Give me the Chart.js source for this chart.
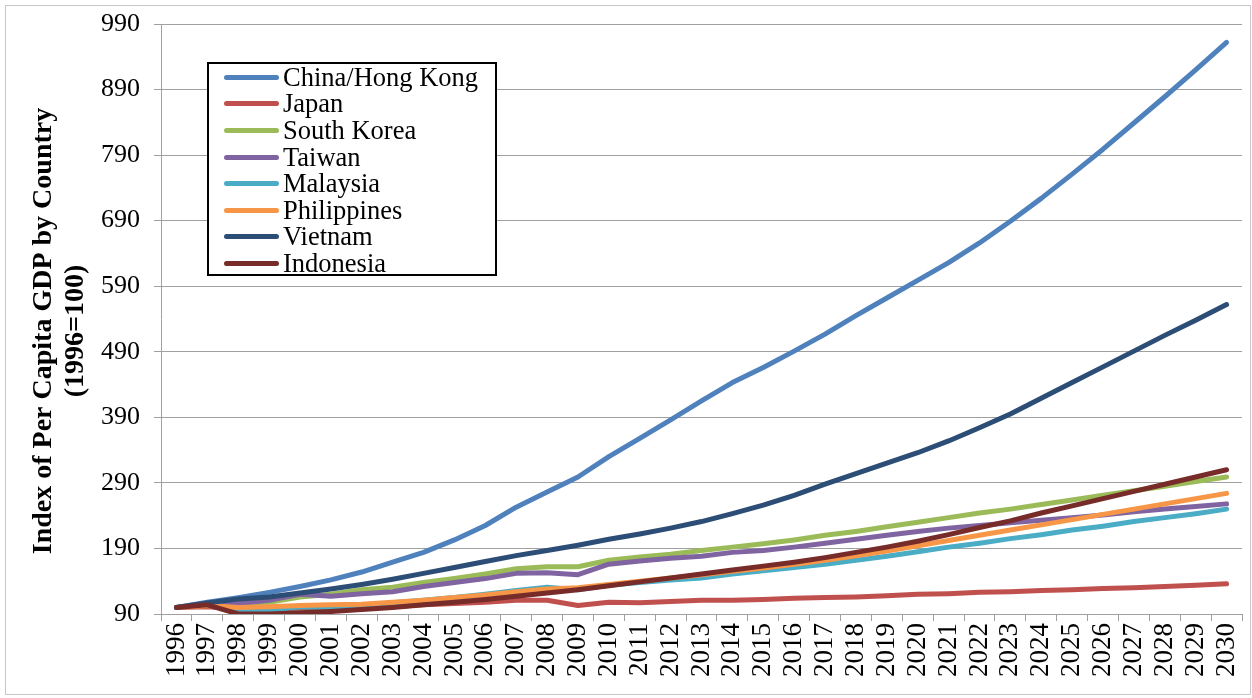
<!DOCTYPE html>
<html>
<head>
<meta charset="utf-8">
<script src="https://cdn.jsdelivr.net/npm/chart.js@4.4.1/dist/chart.umd.min.js"></script>
<style>
  html, body { margin: 0; padding: 0; background: #fff; }
  #wrap { position: relative; width: 1252px; height: 698px; }
  #frame { position: absolute; left: 5px; top: 5px; width: 1244px; height: 688px; border: 1px solid #C8C8C8; pointer-events: none; }
  #legend {
    position: absolute; left: 207px; top: 62px; width: 290px; height: 214px;
    box-sizing: border-box; border: 2px solid #000; background: #fff;
    font-family: "Liberation Serif", serif; font-size: 26.5px; color: #000;
  }
  #legend .row { display: flex; align-items: center; height: 26.6px; }
  #legend .swatch { width: 55px; height: 5px; border-radius: 3px; margin-left: 15px; margin-right: 4px; }
</style>
</head>
<body>
<div id="wrap">
  <canvas id="chart1"></canvas>
  <div id="legend"></div>
  <div id="frame"></div>
</div>
<script>
// datos (indice 1996=100)
const years = ['1996', '1997', '1998', '1999', '2000', '2001', '2002', '2003', '2004', '2005',
  '2006', '2007', '2008', '2009', '2010', '2011', '2012', '2013', '2014', '2015',
  '2016', '2017', '2018', '2019', '2020', '2021', '2022', '2023', '2024', '2025',
  '2026', '2027', '2028', '2029', '2030'];

const china = [100, 108, 115, 123, 132, 142, 154, 169, 184, 203, 225, 253, 276, 299, 330, 358, 386, 415, 443, 466,
  491, 517, 545, 572, 599, 626, 656, 689, 724, 761, 799, 839, 879, 920, 962];
const japan = [100, 101, 98, 97, 99, 99, 99, 101, 104, 106, 108, 111, 111, 103, 108, 107, 109, 111, 111, 112,
  114, 115, 116, 118, 120, 121, 123, 124, 126, 127, 129, 130, 132, 134, 136];
const southKorea = [100, 104, 98, 108, 116, 120, 127, 131, 138, 144, 151, 159, 162, 162, 172, 177, 181, 187, 192, 197,
  203, 210, 216, 223, 230, 237, 244, 250, 257, 264, 271, 278, 285, 292, 299];
const taiwan = [100, 105, 106, 111, 120, 117, 121, 124, 132, 138, 144, 152, 153, 150, 166, 171, 175, 178, 184, 187,
  192, 198, 204, 210, 216, 221, 225, 229, 233, 237, 241, 246, 250, 254, 258];
const malaysia = [100, 105, 93, 95, 101, 100, 103, 107, 111, 115, 120, 126, 131, 127, 134, 138, 142, 145, 151, 156,
  161, 166, 172, 178, 185, 192, 198, 205, 211, 218, 224, 231, 237, 243, 250];
const philippines = [100, 103, 100, 101, 103, 104, 105, 108, 111, 115, 119, 124, 128, 130, 135, 140, 145, 150, 155, 160,
  166, 172, 179, 186, 194, 202, 210, 218, 226, 234, 242, 250, 258, 266, 274];
const vietnam = [100, 107, 113, 116, 122, 128, 135, 143, 152, 161, 170, 179, 187, 195, 204, 212, 221, 231, 243, 256,
  271, 288, 304, 320, 336, 354, 374, 395, 419, 443, 467, 491, 515, 538, 562];
const indonesia = [100, 104, 90, 90, 92, 94, 97, 100, 104, 108, 112, 117, 122, 127, 133, 139, 145, 151, 157, 163,
  169, 176, 184, 192, 201, 211, 222, 232, 244, 255, 266, 277, 288, 299, 310];

const seriesNames = ['China/Hong Kong', 'Japan', 'South Korea', 'Taiwan', 'Malaysia', 'Philippines', 'Vietnam', 'Indonesia'];
const seriesData = [china, japan, southKorea, taiwan, malaysia, philippines, vietnam, indonesia];
const seriesColors = ['#4F81BD', '#C0504D', '#9BBB59', '#8064A2', '#4BACC6', '#F79646', '#2C4D75', '#772C2A'];

const yTicks = [90, 190, 290, 390, 490, 590, 690, 790, 890, 990];
const yTitle = ['Index of Per Capita GDP by Country', '(1996=100)'];

const FONT = '"Liberation Serif", serif';
const GRID = '#A0A0A0';

// titulo del eje Y (dos lineas, en negrita)
const yTitlePlugin = {
  id: 'yTitle',
  afterDraw(chart) {
    const ctx = chart.ctx;
    const cy = 331;
    ctx.save();
    ctx.font = 'bold 28px ' + FONT;
    ctx.fillStyle = '#000';
    ctx.textAlign = 'center';
    ctx.textBaseline = 'middle';
    [44, 76].forEach((x, i) => {
      ctx.save();
      ctx.translate(x, cy);
      ctx.rotate(-Math.PI / 2);
      ctx.fillText(yTitle[i], 0, 0);
      ctx.restore();
    });
    ctx.restore();
  }
};

const datasets = seriesNames.map((name, i) => ({
  label: name,
  data: seriesData[i],
  borderColor: seriesColors[i],
  backgroundColor: seriesColors[i],
  borderWidth: 5,
  borderCapStyle: 'round',
  borderJoinStyle: 'round',
  pointRadius: 0,
  tension: 0,
  fill: false,
  order: seriesNames.length - 1 - i
}));

const ctx = document.getElementById('chart1').getContext('2d');
new Chart(ctx, {
  type: 'line',
  data: { labels: years, datasets: datasets },
  options: {
    responsive: true,
    maintainAspectRatio: false,
    animation: false,
    layout: { padding: { top: 24, right: 10, left: 0, bottom: 0 } },
    plugins: {
      legend: { display: false },
      tooltip: { enabled: false }
    },
    scales: {
      x: {
        type: 'category',
        offset: true,
        afterFit: scale => {
          scale.height = 84;
          scale.paddingLeft = 0;
          scale.paddingRight = 0;
        },
        grid: { display: true, drawOnChartArea: false, offset: true, color: GRID, tickLength: 7 },
        border: { color: GRID, width: 1 },
        ticks: {
          autoSkip: false, minRotation: 90, maxRotation: 90, padding: 2,
          color: '#000', font: { family: FONT, size: 27 }
        }
      },
      y: {
        min: 90,
        max: 990,
        afterFit: scale => {
          scale.width = 161;
          scale.paddingTop = 0;
          scale.paddingBottom = 0;
        },
        afterBuildTicks: scale => { scale.ticks = yTicks.map(v => ({ value: v })); },
        grid: { color: GRID, tickLength: 7 },
        border: { color: GRID, width: 1 },
        ticks: { padding: 14, color: '#000', font: { family: FONT, size: 26 } }
      }
    }
  },
  plugins: [yTitlePlugin]
});

// leyenda HTML dentro del area del grafico
const legendEl = document.getElementById('legend');
seriesNames.forEach((name, i) => {
  const row = document.createElement('div');
  row.className = 'row';
  row.innerHTML = '<span class="swatch" style="background:' + seriesColors[i] + '"></span><span>' + name + '</span>';
  legendEl.appendChild(row);
});
</script>
</body>
</html>
